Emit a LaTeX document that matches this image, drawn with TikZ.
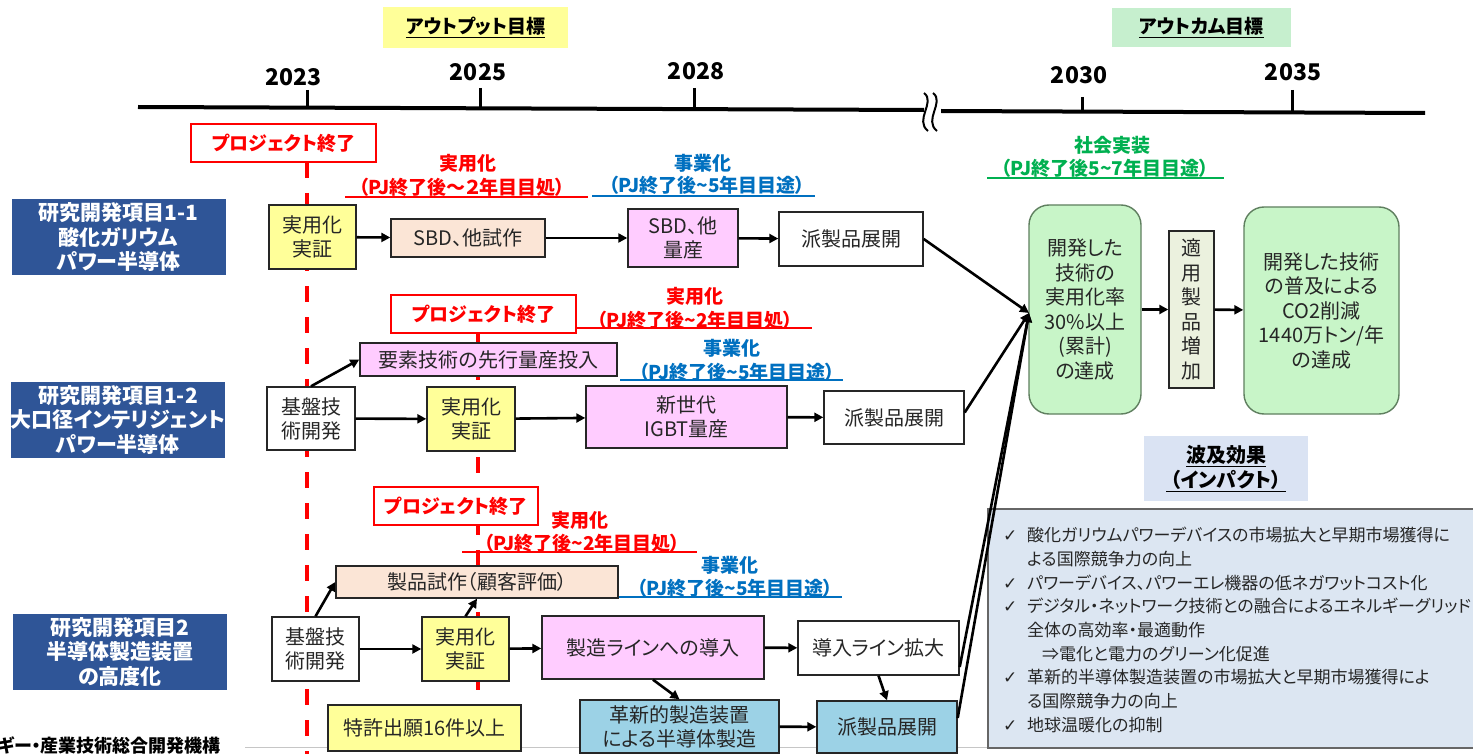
\documentclass[tikz,border=0pt]{standalone}
\usepackage{fontspec}
\setmainfont{Noto Sans CJK JP}[RawFeature=+palt]
\newfontfamily\dejavu{DejaVu Sans}
\usetikzlibrary{arrows.meta}
\definecolor{boxln}{HTML}{262626}
\definecolor{yel}{HTML}{FFFF99}
\definecolor{peach}{HTML}{FBE5D6}
\definecolor{pink}{HTML}{FFCCFF}
\definecolor{sky}{HTML}{9CD2E6}
\definecolor{grn}{HTML}{C8F5C8}
\definecolor{grnln}{HTML}{5F7F5F}
\definecolor{pale}{HTML}{EBF1DE}
\definecolor{impfill}{HTML}{DCE6F2}
\definecolor{hdrblue}{HTML}{DAE3F3}
\definecolor{darkblue}{HTML}{2F5597}
\definecolor{hdryel}{HTML}{FFFF99}
\definecolor{hdrgrn}{HTML}{C6EFCE}
\definecolor{redc}{HTML}{FF0000}
\definecolor{bluetxt}{HTML}{0070C0}
\definecolor{greentxt}{HTML}{00B050}
\definecolor{txtc}{HTML}{262626}
\tikzset{
  bx/.style={draw=boxln, line width=1.4pt, inner sep=0pt, align=center, text=txtc,
    font=\fontsize{20}{24}\selectfont},
  pjbox/.style={draw=redc, line width=1.4pt, fill=white, inner sep=0pt, text=redc,
    font=\bfseries\fontsize{19}{23}\selectfont, minimum height=38pt},
  itembox/.style={fill=darkblue, inner sep=0pt, align=center, text=white,
    font=\bfseries\fontsize{21}{24.5}\selectfont, minimum width=214pt, minimum height=76pt},
  grnbox/.style={draw=grnln, line width=1.4pt, fill=grn, rounded corners=20pt, inner sep=0pt,
    align=center, text=txtc, font=\fontsize{20}{24.5}\selectfont},
  arr/.style={line width=2.6pt, -{Triangle[length=9pt,width=9pt]}, black},
  lbl/.style={inner sep=0pt, font=\bfseries\fontsize{19}{23}\selectfont},
  yr/.style={inner sep=0pt, font=\bfseries\fontsize{23}{26}\selectfont},
  ulr/.style={redc, line width=1.3pt},
  ulb/.style={bluetxt, line width=1.3pt},
  imp/.style={inner sep=0pt, anchor=west, text=txtc, font=\fontsize{17}{20}\selectfont},
  reddash/.style={redc, line width=4pt, dash pattern=on 16pt off 15pt},
}
\newcommand{\ckm}{\makebox[24pt][l]{\dejavu ✓}}
\newcommand{\tld}{\textasciitilde}
\begin{document}
\begin{tikzpicture}[x=1pt,y=-1pt]
\useasboundingbox (0,0) rectangle (1473,754);
\clip (0,0) rectangle (1473,754);
\fill[white] (0,0) rectangle (1473,754);

% footer line
\draw[gray!45, line width=1pt] (245,747) -- (1473,747);

% headers
\node[fill=hdryel, minimum width=185pt, minimum height=41pt, inner sep=0pt,
  font=\bfseries\fontsize{19}{22}\selectfont] (hout) at (475.5,27.5) {\underline{アウトプット目標}};
\node[fill=hdrgrn, minimum width=179pt, minimum height=39pt, inner sep=0pt,
  font=\bfseries\fontsize{19}{22}\selectfont] (hoc) at (1201.5,27.5) {\underline{アウトカム目標}};

% timeline
\draw[line width=4pt] (138,107) -- (924,110);
\draw[line width=4pt] (941,111) -- (1425,113);
\draw[line width=2pt] (924,93) .. controls (936,102) and (914,120) .. (928,131);
\draw[line width=2pt] (933,93) .. controls (945,102) and (923,120) .. (937,131);
\draw[line width=3pt] (307,90) -- (307,107);
\draw[line width=3pt] (480,88) -- (480,108);
\draw[line width=3pt] (694,88) -- (694,109);
\draw[line width=3pt] (1082,97) -- (1082,112);
\draw[line width=3pt] (1292,90) -- (1292,112);
\node[yr] (y23) at (293.5,77) {2023};
\node[yr] (y25) at (478,72) {2025};
\node[yr] (y28) at (696,71) {2028};
\node[yr] (y30) at (1079,75) {2030};
\node[yr] (y35) at (1293,72) {2035};

% red vertical lines
\draw[reddash] (307,162) -- (307,754);
\draw[reddash] (478,333) -- (478,754);

% left item boxes
\node[itembox] (it1) at (118.5,237.5) {研究開発項目1-1\\酸化ガリウム\\パワー半導体};
\node[itembox] (it2) at (118,420) {研究開発項目1-2\\大口径インテリジェント\\パワー半導体};
\node[itembox] (it3) at (120,652) {研究開発項目2\\半導体製造装置\\の高度化};
\node[anchor=east, inner sep=0pt, font=\bfseries\fontsize{18}{20}\selectfont] (org) at (221,745) {ギー・産業技術総合開発機構};

% project end boxes
\node[pjbox, minimum width=185pt] (pj1) at (283.5,143) {プロジェクト終了};
\node[pjbox, minimum width=185pt] (pj2) at (483.5,314) {プロジェクト終了};
\node[pjbox, minimum width=164pt] (pj3) at (456,506) {プロジェクト終了};

% labels row 1
\node[lbl, text=redc] (l1a) at (468,163) {実用化};
\node[lbl, text=redc] (l1b) at (462,187) {（PJ終了後～２年目目処）};
\draw[ulr] (345,197) -- (588,197);
\node[lbl, text=bluetxt] (l1c) at (703,163) {事業化};
\node[lbl, text=bluetxt] (l1d) at (707,185) {（PJ終了後\tld5年目目途）};
\draw[ulb] (592,196) -- (815,196);
% labels row 2
\node[lbl, text=redc] (l2a) at (695,296) {実用化};
\node[lbl, text=redc] (l2b) at (695,320) {（PJ終了後\tld2年目目処）};
\draw[ulr] (pj2.east |- 0,328) -- (812,328);
\node[lbl, text=bluetxt] (l2c) at (732,348) {事業化};
\node[lbl, text=bluetxt] (l2d) at (737,372) {（PJ終了後\tld5年目目途）};
\draw[ulb] (620,380) -- (843,380);
% labels row 3
\node[lbl, text=redc] (l3a) at (580,520) {実用化};
\node[lbl, text=redc] (l3b) at (582,543) {（PJ終了後\tld2年目目処）};
\draw[ulr] (462,552) -- (697,552);
\node[lbl, text=bluetxt] (l3c) at (730,565) {事業化};
\node[lbl, text=bluetxt] (l3d) at (735,588) {（PJ終了後\tld5年目目途）};
\draw[ulb] (618,597) -- (842,597);
% outcome label
\node[lbl, text=greentxt] (l4a) at (1112,145) {社会実装};
\node[lbl, text=greentxt] (l4b) at (1105,168) {（PJ終了後5\tld7年目目途）};
\draw[greentxt, line width=1.3pt] (987,178) -- (1224,178);

% row 1 boxes
\node[bx, fill=yel, minimum width=87pt, minimum height=64pt] (r1a) at (312.5,237) {実用化\\実証};
\node[bx, fill=peach, minimum width=154pt, minimum height=38pt] (r1b) at (468,238) {SBD、他試作};
\node[bx, fill=pink, minimum width=110pt, minimum height=58pt] (r1c) at (683,238) {SBD、他\\量産};
\node[bx, fill=white, minimum width=144pt, minimum height=54pt] (r1d) at (851,239) {派製品展開};

% row 2 boxes
\node[bx, fill=pink, minimum width=257pt, minimum height=33pt] (r2e) at (488.5,359.5) {要素技術の先行量産投入};
\node[bx, fill=white, minimum width=88pt, minimum height=63pt] (r2a) at (311,418.5) {基盤技\\術開発};
\node[bx, fill=yel, minimum width=88pt, minimum height=64pt] (r2b) at (471,419) {実用化\\実証};
\node[bx, fill=pink, minimum width=201pt, minimum height=62pt] (r2c) at (686.5,417) {新世代\\IGBT量産};
\node[bx, fill=white, minimum width=140pt, minimum height=53pt] (r2d) at (894,417.5) {派製品展開};

% row 3 boxes
\node[bx, fill=peach, minimum width=282pt, minimum height=32pt] (r3e) at (477,582) {製品試作（顧客評価）};
\node[bx, fill=white, minimum width=87pt, minimum height=64pt] (r3a) at (315.5,649) {基盤技\\術開発};
\node[bx, fill=yel, minimum width=87pt, minimum height=64pt] (r3b) at (465.5,649) {実用化\\実証};
\node[bx, fill=pink, minimum width=222pt, minimum height=63pt] (r3c) at (653,647.5) {製造ラインへの導入};
\node[bx, fill=white, minimum width=161pt, minimum height=54pt] (r3d) at (878.5,648) {導入ライン拡大};
\node[bx, fill=yel, minimum width=193pt, minimum height=46pt] (r3f) at (424.5,728) {特許出願16件以上};
\node[bx, fill=sky, minimum width=199pt, minimum height=53pt] (r3g) at (679.5,726.5) {革新的製造装置\\による半導体製造};
\node[bx, fill=sky, minimum width=140pt, minimum height=52pt] (r3h) at (887,727) {派製品展開};

% outcome boxes
\node[grnbox, minimum width=112pt, minimum height=209pt] (ga) at (1085,309.5)
  {開発した\\技術の\\実用化率\\30\%以上\\(累計)\\の達成};
\node[bx, fill=pale, minimum width=45pt, minimum height=157pt, font=\fontsize{20}{24.5}\selectfont] (gb) at (1191.5,309.5)
  {適\\用\\製\\品\\増\\加};
\node[grnbox, minimum width=155pt, minimum height=207pt] (gc) at (1321.5,310.5)
  {開発した技術\\の普及による\\CO2削減\\1440万トン/年\\の達成};
\coordinate (conv) at (1029,313);

% impact
\node[fill=hdrblue, minimum width=164pt, minimum height=65pt, inner sep=0pt, align=center,
  font=\bfseries\fontsize{20}{25}\selectfont] (ih) at (1226,468.5)
  {\underline{波及効果}\\\underline{\ （インパクト）\ }};
\draw[draw=gray!80!black, line width=1.2pt, fill=impfill] (988,509) rectangle (1490,748);
\node[imp] (i1) at (1003,535) {\ckm 酸化ガリウムパワーデバイスの市場拡大と早期市場獲得に};
\node[imp] (i2) at (1027,558.75) {よる国際競争力の向上};
\node[imp] (i3) at (1003,582.5) {\ckm パワーデバイス、パワーエレ機器の低ネガワットコスト化};
\node[imp] (i4) at (1003,606.25) {\ckm デジタル・ネットワーク技術との融合によるエネルギーグリッド};
\node[imp] (i5) at (1027,630) {全体の高効率・最適動作};
\node[imp] (i6) at (1042,653.75) {⇒電化と電力のグリーン化促進};
\node[imp] (i7) at (1003,677.5) {\ckm 革新的半導体製造装置の市場拡大と早期市場獲得によ};
\node[imp] (i8) at (1027,701.25) {る国際競争力の向上};
\node[imp] (i9) at (1003,725) {\ckm 地球温暖化の抑制};

% arrows row 1
\draw[arr] (r1a) -- (r1b);
\draw[arr] (r1b) -- (r1c);
\draw[arr] (r1c) -- (r1d);
% row 2
\draw[arr] (r2a.north) -- (r2e.west);
\draw[arr] (r2a) -- (r2b);
\draw[arr] (r2b) -- (r2c);
\draw[arr] (r2c) -- (r2d);
% row 3
\draw[arr] (r3a.north) -- (r3e.west);
\draw[arr] (r3b.north) -- (r3e.south);
\draw[arr] (r3a) -- (r3b);
\draw[arr] (r3b) -- (r3c);
\draw[arr] (r3c) -- (r3d);
\draw[arr] (r3c.south) -- (r3g.north);
\draw[arr] (r3d.south) -- (r3h.north);
\draw[arr] (r3g) -- (r3h);
% to outcome
\draw[arr] (r1d.east) -- (conv);
\draw[arr] ([yshift=5pt]r2d.east) -- (conv);
\draw[arr] ([yshift=-19pt]r3d.east) -- (conv);
\draw[arr] ([yshift=9pt]r3h.east) -- (conv);
\draw[arr] (ga) -- (gb);
\draw[arr] (gb) -- (gc);
\end{tikzpicture}
\end{document}
